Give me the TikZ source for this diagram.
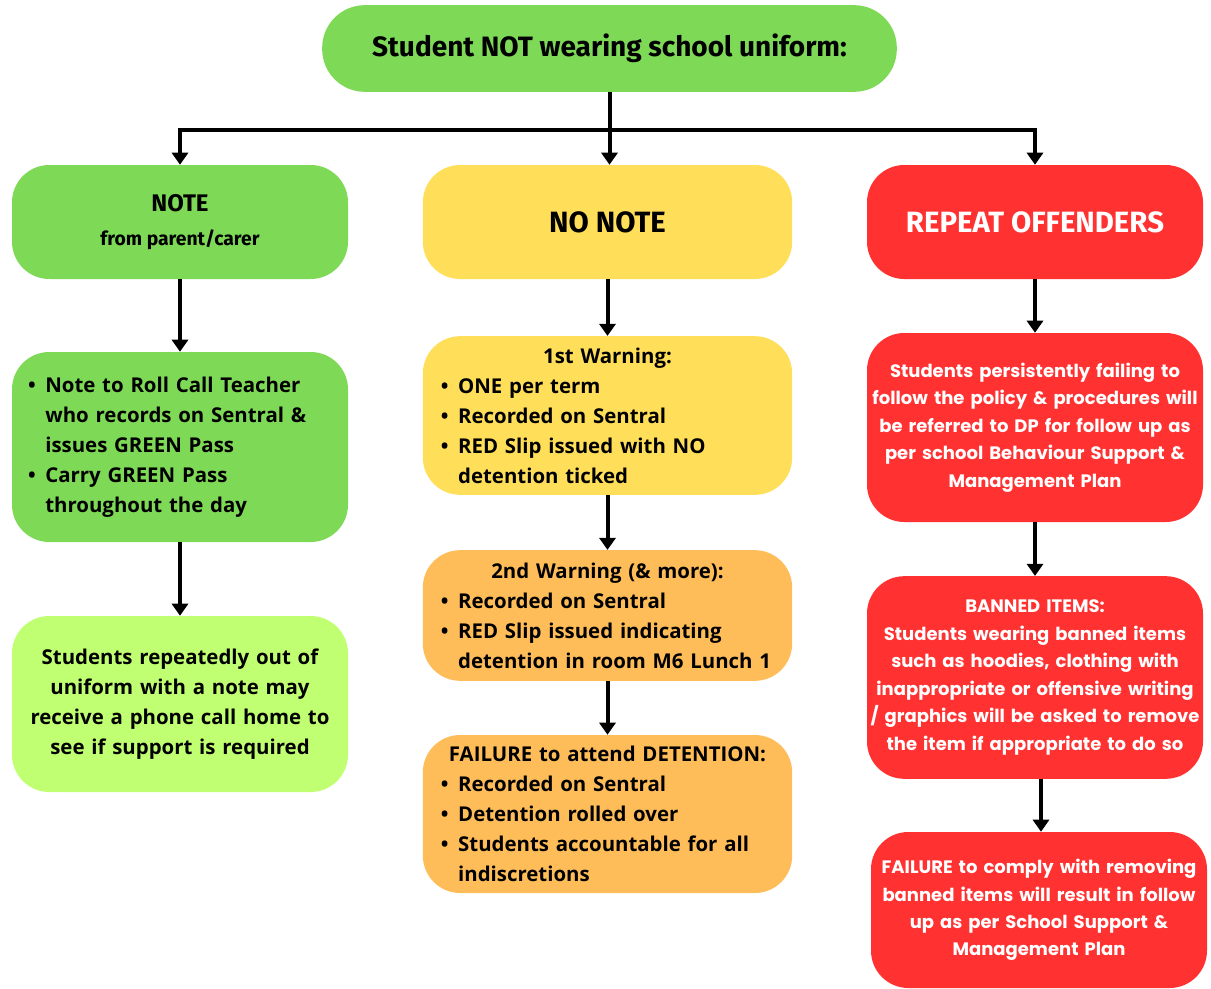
\documentclass[tikz,border=0pt]{standalone}
\usepackage{fontspec}
\setmainfont{Open Sans}
\newfontfamily\headfont{Fira Sans}
\newfontfamily\redfont{Poppins}
\usetikzlibrary{arrows.meta}

\definecolor{uniGreen}{HTML}{7ED957}
\definecolor{uniLime}{HTML}{C1FF72}
\definecolor{uniYellow}{HTML}{FFDE59}
\definecolor{uniOrange}{HTML}{FFBD59}
\definecolor{uniRed}{HTML}{FF3131}

% bullet and hanging indent for the lists
\newcommand{\bl}{\makebox[13pt][l]{\textbullet}}
\newcommand{\ind}{\hspace*{13pt}}

\begin{document}
\begin{tikzpicture}[x=0.75pt, y=-0.75pt,
    box/.style={rounded corners=28pt, inner sep=0pt, align=center,
        font=\bfseries\fontsize{15.3}{22.5}\selectfont},
    headbox/.style={box, font=\headfont\bfseries\fontsize{22}{25}\selectfont},
    redbox/.style={box, fill=uniRed, text=white, text width=250pt,
        font=\redfont\bfseries\fontsize{13.5}{20.6}\selectfont},
    arr/.style={-{Triangle[width=12pt,length=9pt]}, line width=3pt}]
    \useasboundingbox (0,0) rectangle (1211,989);

    % Top of the chart
    \node[headbox, fill=uniGreen, rounded corners=32pt, minimum width=431pt, minimum height=65pt,
        font=\headfont\bfseries\fontsize{21}{24}\selectfont] (top) at (609.5,48.5)
        {Student NOT wearing school uniform:};

    % Three branches
    \node[headbox, fill=uniGreen, minimum width=252pt, minimum height=85.5pt] (note) at (180,222)
        {{\fontsize{18}{25}\selectfont NOTE}\\{\fontsize{14.5}{18}\selectfont from parent/carer}};
    \node[headbox, fill=uniYellow, minimum width=277pt, minimum height=85.5pt] (nonote) at (607.5,222)
        {NO NOTE};
    \node[headbox, fill=uniRed, text=white, minimum width=252pt, minimum height=85.5pt] (repeat) at (1035,222)
        {REPEAT OFFENDERS};

    % Note column
    \node[box, fill=uniGreen, minimum width=252pt, minimum height=142.5pt, text width=228pt, align=left] (passbox) at (180,447)
        {\bl Note to Roll Call Teacher\\
         \ind who records on Sentral \&\\
         \ind issues GREEN Pass\\
         \bl Carry GREEN Pass\\
         \ind throughout the day};
    \node[box, fill=uniLime, minimum width=252pt, minimum height=132pt, text width=240pt] (callhome) at (180,704)
        {Students repeatedly out of\\ uniform with a note may\\ receive a phone call home to\\ see if support is required};

    % No note column
    \node[box, fill=uniYellow, minimum width=277pt, minimum height=119pt, text width=250pt, align=left] (warnone) at (607.5,415.5)
        {{\centering 1st Warning:\par}
         \bl ONE per term\\
         \bl Recorded on Sentral\\
         \bl RED Slip issued with NO\\
         \ind detention ticked};
    \node[box, fill=uniOrange, minimum width=277pt, minimum height=98pt, text width=250pt, align=left] (warntwo) at (607.5,615.5)
        {{\centering 2nd Warning (\& more):\par}
         \bl Recorded on Sentral\\
         \bl RED Slip issued indicating\\
         \ind detention in room M6 Lunch 1};
    \node[box, fill=uniOrange, minimum width=277pt, minimum height=118.5pt, text width=250pt, align=left] (failattend) at (607.5,814)
        {{\centering FAILURE to attend DETENTION:\par}
         \bl Recorded on Sentral\\
         \bl Detention rolled over\\
         \bl Students accountable for all\\
         \ind indiscretions};

    % Repeat offenders column
    \node[redbox, minimum width=252pt, minimum height=141.75pt] (persist) at (1035,427.5)
        {Students persistently failing to\\ follow the policy \& procedures will\\ be referred to DP for follow up as\\ per school Behaviour Support \&\\ Management Plan};
    \node[redbox, minimum width=252pt, minimum height=152pt] (banned) at (1035,677.5)
        {BANNED ITEMS:\\ Students wearing banned items\\ such as hoodies, clothing with\\ inappropriate or offensive writing\\ / graphics will be asked to remove\\ the item if appropriate to do so};
    \node[redbox, minimum width=252pt, minimum height=117pt] (comply) at (1039,910)
        {FAILURE to comply with removing\\ banned items will result in follow\\ up as per School Support \&\\ Management Plan};

    % Connectors
    \coordinate (split) at (609,130);
    \draw[arr] (top.south) -- (nonote.north -| top.south);
    \draw[arr] (split) -| (note.north);
    \draw[arr] (split) -| (repeat.north);
    \draw[arr] (note.south) -- (passbox.north);
    \draw[arr] (passbox.south) -- (callhome.north);
    \draw[arr] (nonote.south) -- (warnone.north);
    \draw[arr] (warnone.south) -- (warntwo.north);
    \draw[arr] (warntwo.south) -- (failattend.north);
    \draw[arr] (repeat.south) -- (persist.north);
    \draw[arr] (persist.south) -- (persist.south |- banned.north);
    \draw[arr] ([xshift=4.5pt]banned.south) -- ([xshift=4.5pt]banned.south |- comply.north);
\end{tikzpicture}
\end{document}
